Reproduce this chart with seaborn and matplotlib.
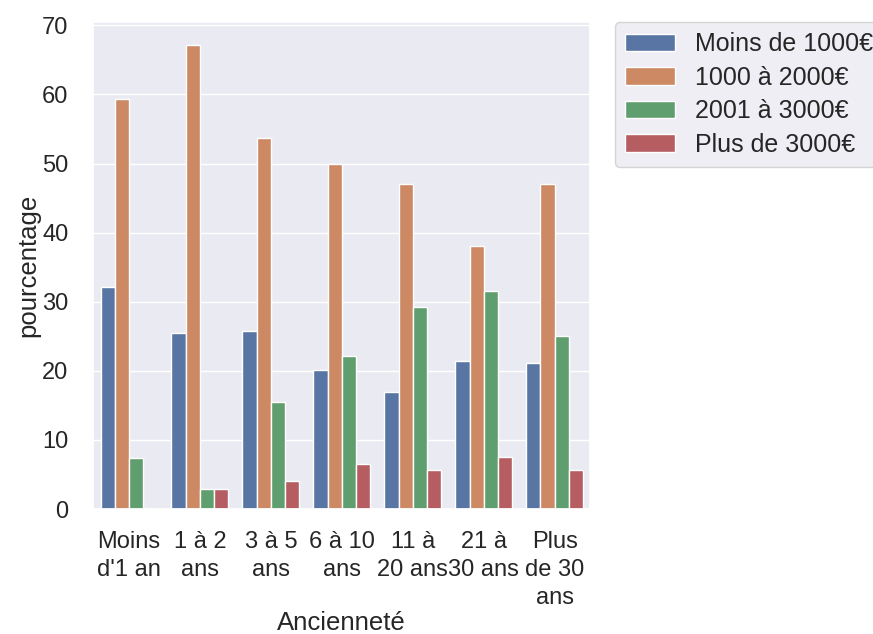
import matplotlib
matplotlib.use("Agg")
import matplotlib.pyplot as plt
import seaborn as sns
import pandas as pd

categories = ["Moins\nd'1 an", "1 à 2\nans", "3 à 5\nans", "6 à 10\nans",
              "11 à\n20 ans", "21 à\n30 ans", "Plus\nde 30\nans"]
series = ["Moins de 1000€", "1000 à 2000€", "2001 à 3000€", "Plus de 3000€"]
moins_1000 = [32.2, 25.5, 25.7, 20.2, 16.9, 21.5, 21.2]
de_1000_2000 = [59.3, 67.1, 53.7, 50.0, 47.0, 38.0, 47.0]
de_2001_3000 = [7.4, 2.9, 15.5, 22.1, 29.3, 31.6, 25.1]
plus_3000 = [0.0, 2.9, 4.0, 6.5, 5.6, 7.5, 5.6]

values = [moins_1000, de_1000_2000, de_2001_3000, plus_3000]
rows = []
for s, vals in zip(series, values):
    for c, v in zip(categories, vals):
        rows.append({"Ancienneté": c, "pourcentage": v, "salaire": s})
df = pd.DataFrame(rows)

sns.set_theme(style="darkgrid")
plt.rcParams["font.family"] = ["Liberation Sans", "DejaVu Sans"]

fig = plt.figure(figsize=(8.73, 6.34), dpi=100)
ax = fig.add_axes([0.107, 0.197, 0.569, 0.768])
sns.barplot(data=df, x="Ancienneté", y="pourcentage", hue="salaire",
            order=categories, hue_order=series, ax=ax)
ax.tick_params(axis="y", labelsize=17, pad=12)
ax.tick_params(axis="x", labelsize=17, pad=10)
for lbl in ax.get_xticklabels():
    lbl.set_linespacing(1.35)
ax.set_xlabel("Ancienneté", fontsize=18.5, labelpad=1)
ax.set_ylabel("pourcentage", fontsize=18.5, labelpad=1)
ax.legend(bbox_to_anchor=(1.05, 1), loc="upper left", borderaxespad=0,
          fontsize=18, labelspacing=0.38, title=None)
fig.savefig("out.png", dpi=100)
